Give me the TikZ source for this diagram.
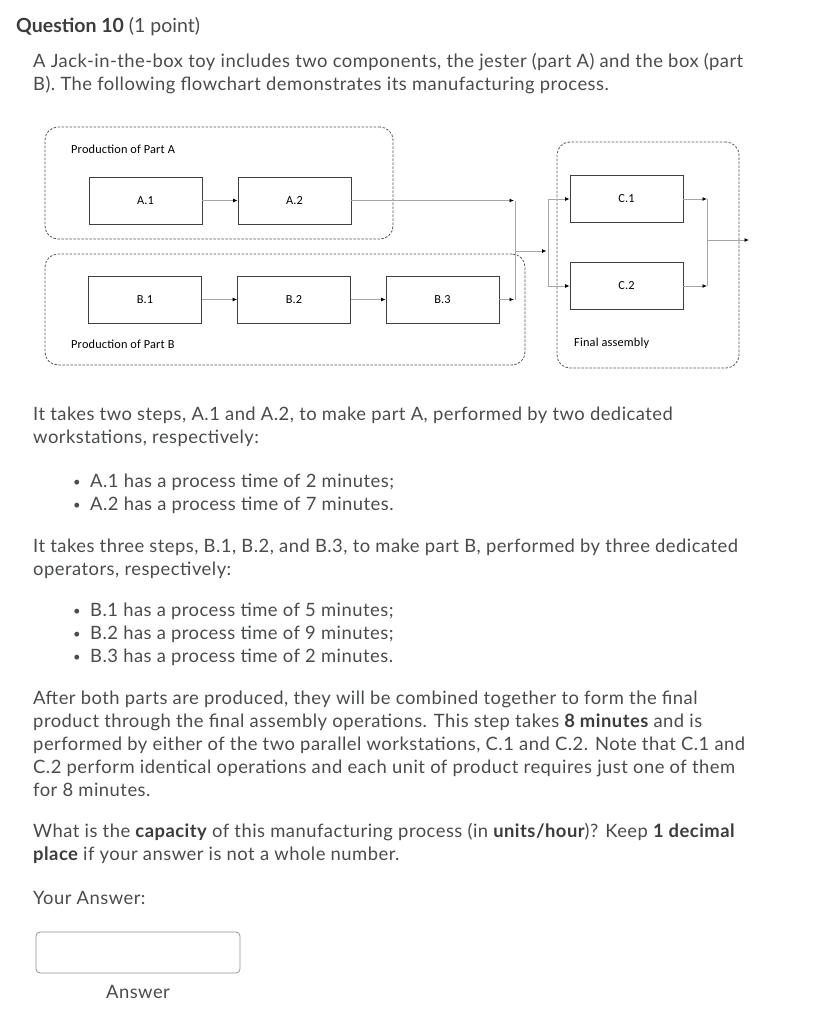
\documentclass[tikz,border=0pt]{standalone}
\usepackage{fontspec}
\setmainfont[LetterSpace=2.6]{Lato}
\newfontfamily\lathead{Lato}
\newfontfamily\carl[LetterSpace=1.5]{Carlito}
\usetikzlibrary{arrows.meta}
\definecolor{txtc}{HTML}{494C4E}
\definecolor{boldc}{HTML}{3A3C3E}
\definecolor{linec}{HTML}{A6A6A6}
\definecolor{boxc}{HTML}{3F3F3F}
\definecolor{grpc}{HTML}{555555}
\tikzset{
  txt/.style={anchor=base west, inner sep=0pt, text=txtc, font=\fontsize{18.4}{23}\selectfont},
  proc/.style={draw=boxc, line width=0.8pt, minimum width=113pt, minimum height=47pt, inner sep=0pt, font=\carl\fontsize{12.3}{14}\selectfont, text=black},
  grp/.style={draw=grpc, line width=0.8pt, dash pattern=on 2.4pt off 1.6pt, rounded corners=13pt, inner sep=0pt},
  glabel/.style={anchor=west, inner sep=0pt, font=\carl\fontsize{12.3}{14}\selectfont, text=black},
  conn/.style={draw=linec, line width=0.9pt},
  aconn/.style={conn, -{Latex[color=black,length=4.5pt,width=4pt]}},
  bul/.style={anchor=base west, inner sep=0pt, text=txtc, font=\fontsize{13}{23}\selectfont},
}
\newcommand{\bld}[1]{{\bfseries\color{boldc}#1}}
\begin{document}
\begin{tikzpicture}[x=1pt,y=-1pt]
\useasboundingbox[fill=white] (0,0) rectangle (823,1018);

% header
\node[txt, font=\lathead\fontsize{19.5}{24}\selectfont] (q) at (16,32) {\bld{Question 10} (1 point)};
\node[txt] (p1) at (33,67) {A Jack-in-the-box toy includes two components, the jester (part A) and the box (part};
\node[txt] (p2) at (33,90) {B). The following flowchart demonstrates its manufacturing process.};

% groups
\node[grp, minimum width=348pt, minimum height=112pt] (gA) at (219,183) {};
\node[grp, minimum width=480pt, minimum height=111pt] (gB) at (285,309.5) {};
\node[grp, minimum width=182pt, minimum height=226pt] (gC) at (648,255) {};
\node[glabel] (lA) at (71,149) {Production of Part A};
\node[glabel] (lB) at (71,344) {Production of Part B};
\node[glabel] (lC) at (574,343) {Final assembly};

% processes
\node[proc] (A1) at (145.5,200.5) {A.1};
\node[proc] (A2) at (294.5,200.5) {A.2};
\node[proc] (B1) at (145,299.5) {B.1};
\node[proc] (B2) at (294,299.5) {B.2};
\node[proc] (B3) at (442.5,299.5) {B.3};
\node[proc] (C1) at (626.5,199) {C.1};
\node[proc] (C2) at (626.5,286) {C.2};

% junction points
\coordinate (jA) at (515,200.5);
\coordinate (jB) at (515,299.5);
\coordinate (jM) at (515,251);
\coordinate (kM) at (548,251);
\coordinate (k1) at (548,199);
\coordinate (k2) at (548,286);
\coordinate (m1) at (707,199);
\coordinate (m2) at (707,286);
\coordinate (mm) at (707,240);
\coordinate (out) at (749,240);

% connectors
\draw[aconn] (A1) -- (A2);
\draw[aconn] (B1) -- (B2);
\draw[aconn] (B2) -- (B3);
\draw[aconn] (A2) -- ([xshift=-1pt]jA);
\draw[aconn] (B3) -- ([xshift=-1pt]jB);
\draw[conn] (jA) -- (jB);
\draw[aconn] (jM) -- ([xshift=-1.5pt]kM);
\draw[conn] (k1) -- (k2);
\draw[aconn] (k1) -- (C1);
\draw[aconn] (k2) -- (C2);
\draw[aconn] (C1) -- (m1);
\draw[aconn] (C2) -- (m2);
\draw[conn] (m1) -- (m2);
\draw[aconn] (mm) -- (out);

% body
\node[txt] (t1) at (33,420) {It takes two steps, A.1 and A.2, to make part A, performed by two dedicated};
\node[txt] (t2) at (33,443) {workstations, respectively:};
\node[bul] (ba1) at (73,486) {•};
\node[txt] (a1) at (90,487) {A.1 has a process time of 2 minutes;};
\node[bul] (ba2) at (73,509) {•};
\node[txt] (a2) at (90,510) {A.2 has a process time of 7 minutes.};

\node[txt] (t3) at (33,552) {It takes three steps, B.1, B.2, and B.3, to make part B, performed by three dedicated};
\node[txt] (t4) at (33,575) {operators, respectively:};
\node[bul] (bb1) at (73,615) {•};
\node[txt] (b1) at (90,616) {B.1 has a process time of 5 minutes;};
\node[bul] (bb2) at (73,638) {•};
\node[txt] (b2) at (90,639) {B.2 has a process time of 9 minutes;};
\node[bul] (bb3) at (73,661) {•};
\node[txt] (b3) at (90,662) {B.3 has a process time of 2 minutes.};

\node[txt] (f1) at (33,704) {After both parts are produced, they will be combined together to form the final};
\node[txt] (f2) at (33,727) {product through the final assembly operations. This step takes \bld{8 minutes} and is};
\node[txt] (f3) at (33,750) {performed by either of the two parallel workstations, C.1 and C.2. Note that C.1 and};
\node[txt] (f4) at (33,773) {C.2 perform identical operations and each unit of product requires just one of them};
\node[txt] (f5) at (33,796) {for 8 minutes.};

\node[txt] (w1) at (33,837) {What is the \bld{capacity} of this manufacturing process (in \bld{units/hour})? Keep \bld{1 decimal}};
\node[txt] (w2) at (33,860) {\bld{place} if your answer is not a whole number.};

\node[txt] (ya) at (33,904) {Your Answer:};
\draw[draw=gray!85, line width=0.8pt, rounded corners=4pt] (36,932) rectangle (240,973);
\node[txt, anchor=base] (ans) at (138,998) {Answer};
\end{tikzpicture}
\end{document}
